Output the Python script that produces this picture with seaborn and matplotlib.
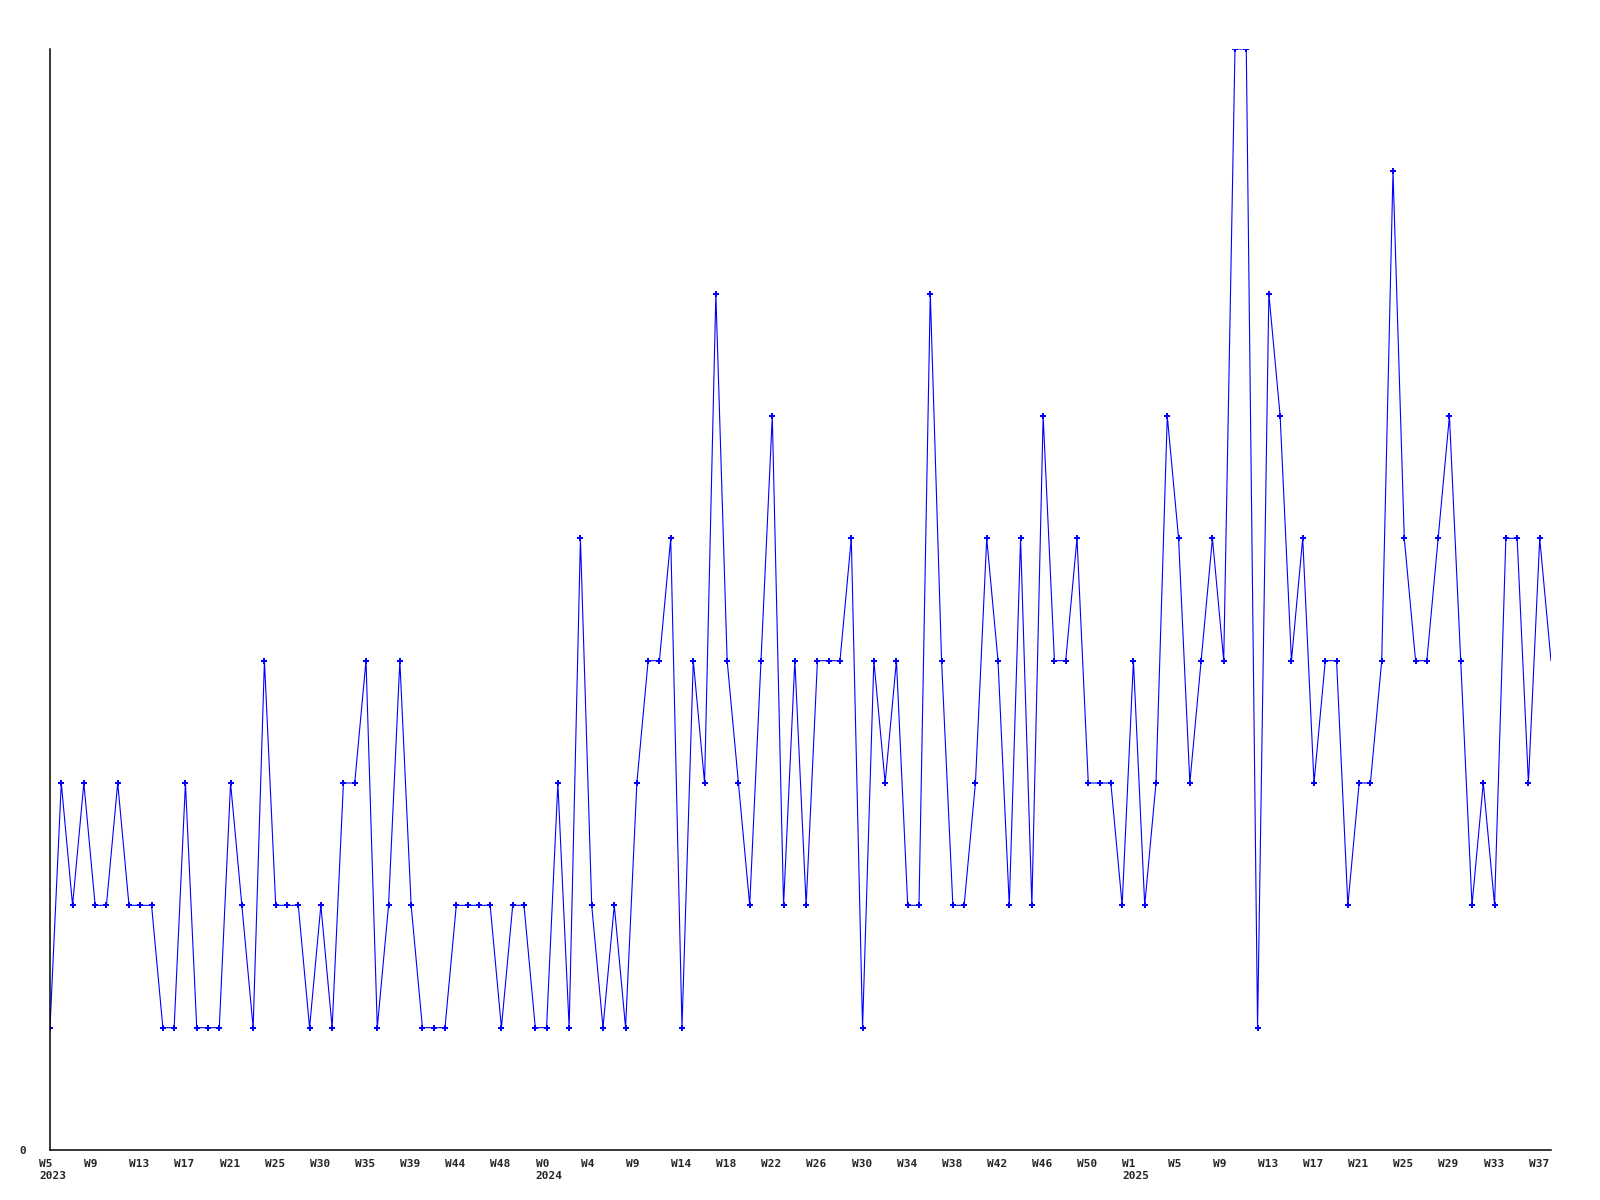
import matplotlib
matplotlib.use('Agg')
import matplotlib.pyplot as plt
import matplotlib.transforms as mtransforms
import pandas as pd
import seaborn as sns

# weekly counts, 2023 W5 .. 2025 W38
values = [1, 3, 2, 3, 2, 2, 3, 2, 2, 2,
          1, 1, 3, 1, 1, 1, 3, 2, 1, 4,
          2, 2, 2, 1, 2, 1, 3, 3, 4, 1,
          2, 4, 2, 1, 1, 1, 2, 2, 2, 2,
          1, 2, 2, 1, 1, 3, 1, 5, 2, 1,
          2, 1, 3, 4, 4, 5, 1, 4, 3, 7,
          4, 3, 2, 4, 6, 2, 4, 2, 4, 4,
          4, 5, 1, 4, 3, 4, 2, 2, 7, 4,
          2, 2, 3, 5, 4, 2, 5, 2, 6, 4,
          4, 5, 3, 3, 3, 2, 4, 2, 3, 6,
          5, 3, 4, 5, 4, 9, 9, 1, 7, 6,
          4, 5, 3, 4, 4, 2, 3, 3, 4, 8,
          5, 4, 4, 5, 6, 4, 2, 3, 2, 5,
          5, 3, 5, 4]

# one label every 4 points
week_labels = ["W5", "W9", "W13", "W17", "W21", "W25", "W30", "W35", "W39", "W44", "W48",
               "W0", "W4", "W9", "W14", "W18", "W22", "W26", "W30", "W34", "W38", "W42", "W46", "W50",
               "W1", "W5", "W9", "W13", "W17", "W21", "W25", "W29", "W33", "W37"]
year_labels = {0: "2023", 11: "2024", 24: "2025"}
label_step = 4

df = pd.DataFrame({'idx': range(len(values)), 'count': values})

sns.set_style("white")
plt.rcParams['font.family'] = ['DejaVu Sans Mono', 'DejaVu Sans']

fig = plt.figure(figsize=(16, 12), dpi=100)
ax = fig.add_axes([50 / 1600, 50 / 1200, 1501 / 1600, 1101 / 1200])

# last point is drawn without a marker, like the original
sns.lineplot(data=df, x='idx', y='count', ax=ax, color='#0000FF', linewidth=0.8,
             marker='P', markersize=4.5, markeredgewidth=0, sort=False,
             markevery=list(range(len(values) - 1)))

ax.set_xlim(0, len(values) - 1)
ax.set_ylim(0, 9)
ax.set_xlabel('')
ax.set_ylabel('')

ticks = [i * label_step for i in range(len(week_labels))]
labels = [w + ("\n" + year_labels[i] if i in year_labels else "") for i, w in enumerate(week_labels)]
ax.set_xticks(ticks)
ax.set_xticklabels(labels, ha='left', fontsize=8, fontweight='bold', linespacing=1.3)
ax.set_yticks([0])
ax.set_yticklabels(['0'], fontsize=8, fontweight='bold')
ax.tick_params(axis='x', length=0, pad=6.5)
ax.tick_params(axis='y', length=0, pad=17)

shift = mtransforms.ScaledTranslation(-11 / 100, 0, fig.dpi_scale_trans)
for lbl in ax.get_xticklabels():
    lbl.set_transform(lbl.get_transform() + shift)

for side in ['top', 'right']:
    ax.spines[side].set_visible(False)
for side in ['left', 'bottom']:
    ax.spines[side].set_color('black')
    ax.spines[side].set_linewidth(1.1)

plt.savefig('out.png', dpi=100)
